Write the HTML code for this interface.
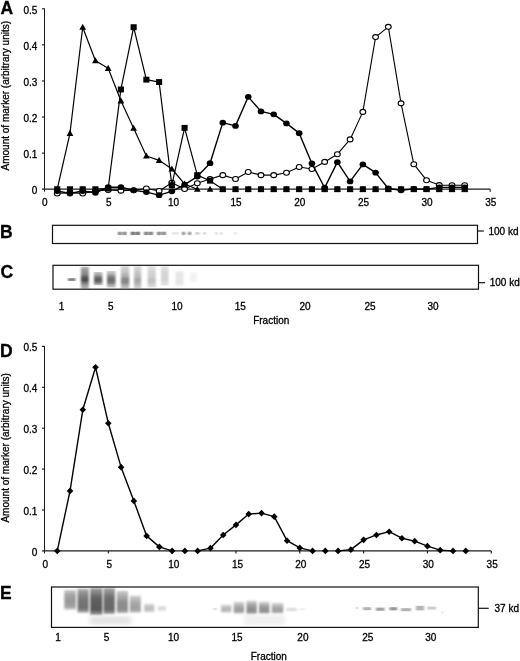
<!DOCTYPE html>
<html><head><meta charset="utf-8"><title>Figure</title>
<style>html,body{margin:0;padding:0;background:#fff}body{width:520px;height:661px;overflow:hidden}svg{display:block}text{font-family:"Liberation Sans",sans-serif;fill:#000;stroke:#000;stroke-width:.3px}</style>
</head><body>
<svg style="will-change:transform" width="520" height="661" viewBox="0 0 520 661">
<defs><filter id="b1" x="-20%" y="-50%" width="140%" height="200%"><feGaussianBlur stdDeviation="0.8 0.7"/></filter><filter id="b2" x="-20%" y="-50%" width="140%" height="200%"><feGaussianBlur stdDeviation="0.9 1.1"/></filter><filter id="b3" x="-30%" y="-50%" width="160%" height="200%"><feGaussianBlur stdDeviation="2.5 1.6"/></filter></defs>
<rect width="520" height="661" fill="#fff"/>
<g stroke="#1a1a1a" stroke-width="1.15" fill="none">
<path d="M44.5 8.5V191.7" stroke-width="1"/><path d="M42.0 189.2H490.19" stroke="#1c1c1c" stroke-width="1.3"/>
<path d="M42.0 153.12H44.5"/>
<path d="M42.0 117.04H44.5"/>
<path d="M42.0 80.96H44.5"/>
<path d="M42.0 44.88H44.5"/>
<path d="M42.0 8.80H44.5"/>
<path d="M108.17 189.2V191.7"/>
<path d="M171.84 189.2V191.7"/>
<path d="M235.51 189.2V191.7"/>
<path d="M299.18 189.2V191.7"/>
<path d="M362.85 189.2V191.7"/>
<path d="M426.52 189.2V191.7"/>
<path d="M490.19 189.2V191.7"/>
</g>
<text x="37.3" y="193.90" font-size="10" text-anchor="end">0</text>
<text x="37.3" y="157.82" font-size="10" text-anchor="end">0.1</text>
<text x="37.3" y="121.74" font-size="10" text-anchor="end">0.2</text>
<text x="37.3" y="85.66" font-size="10" text-anchor="end">0.3</text>
<text x="37.3" y="49.58" font-size="10" text-anchor="end">0.4</text>
<text x="37.3" y="13.50" font-size="10" text-anchor="end">0.5</text>
<text x="44.70" y="206.00" font-size="10" text-anchor="middle">0</text>
<text x="108.77" y="206.00" font-size="10" text-anchor="middle">5</text>
<text x="173.54" y="206.00" font-size="10" text-anchor="middle">10</text>
<text x="236.11" y="206.00" font-size="10" text-anchor="middle">15</text>
<text x="299.78" y="206.00" font-size="10" text-anchor="middle">20</text>
<text x="363.45" y="206.00" font-size="10" text-anchor="middle">25</text>
<text x="427.12" y="206.00" font-size="10" text-anchor="middle">30</text>
<text x="490.79" y="206.00" font-size="10" text-anchor="middle">35</text>
<text transform="translate(9.2 95.7) rotate(-90)" font-size="10" text-anchor="middle">Amount of marker (arbitrary units)</text>
<polyline points="57.23,193.53 69.97,192.81 82.70,193.53 95.44,191.00 108.17,189.92 120.90,190.64 133.64,190.28 146.37,188.48 159.11,191.00 171.84,182.71 184.57,188.95 197.31,183.21 210.04,179.10 222.78,175.13 235.51,178.95 248.24,171.95 260.98,175.13 273.71,175.13 286.45,172.68 299.18,166.94 311.91,169.00 324.65,161.92 337.38,154.20 350.12,139.41 362.85,111.88 375.58,37.09 388.32,26.84 401.05,103.33 413.79,164.20 426.52,180.18 439.25,185.09 451.99,185.23 464.72,185.23" fill="none" stroke="#000" stroke-width="1.1" stroke-linejoin="round"/>
<ellipse cx="57.23" cy="193.53" rx="2.9" ry="2.5" fill="#fff" stroke="#000" stroke-width="1.1"/>
<ellipse cx="69.97" cy="192.81" rx="2.9" ry="2.5" fill="#fff" stroke="#000" stroke-width="1.1"/>
<ellipse cx="82.70" cy="193.53" rx="2.9" ry="2.5" fill="#fff" stroke="#000" stroke-width="1.1"/>
<ellipse cx="95.44" cy="191.00" rx="2.9" ry="2.5" fill="#fff" stroke="#000" stroke-width="1.1"/>
<ellipse cx="108.17" cy="189.92" rx="2.9" ry="2.5" fill="#fff" stroke="#000" stroke-width="1.1"/>
<ellipse cx="120.90" cy="190.64" rx="2.9" ry="2.5" fill="#fff" stroke="#000" stroke-width="1.1"/>
<ellipse cx="133.64" cy="190.28" rx="2.9" ry="2.5" fill="#fff" stroke="#000" stroke-width="1.1"/>
<ellipse cx="146.37" cy="188.48" rx="2.9" ry="2.5" fill="#fff" stroke="#000" stroke-width="1.1"/>
<ellipse cx="159.11" cy="191.00" rx="2.9" ry="2.5" fill="#fff" stroke="#000" stroke-width="1.1"/>
<ellipse cx="171.84" cy="182.71" rx="2.9" ry="2.5" fill="#fff" stroke="#000" stroke-width="1.1"/>
<ellipse cx="184.57" cy="188.95" rx="2.9" ry="2.5" fill="#fff" stroke="#000" stroke-width="1.1"/>
<ellipse cx="197.31" cy="183.21" rx="2.9" ry="2.5" fill="#fff" stroke="#000" stroke-width="1.1"/>
<ellipse cx="210.04" cy="179.10" rx="2.9" ry="2.5" fill="#fff" stroke="#000" stroke-width="1.1"/>
<ellipse cx="222.78" cy="175.13" rx="2.9" ry="2.5" fill="#fff" stroke="#000" stroke-width="1.1"/>
<ellipse cx="235.51" cy="178.95" rx="2.9" ry="2.5" fill="#fff" stroke="#000" stroke-width="1.1"/>
<ellipse cx="248.24" cy="171.95" rx="2.9" ry="2.5" fill="#fff" stroke="#000" stroke-width="1.1"/>
<ellipse cx="260.98" cy="175.13" rx="2.9" ry="2.5" fill="#fff" stroke="#000" stroke-width="1.1"/>
<ellipse cx="273.71" cy="175.13" rx="2.9" ry="2.5" fill="#fff" stroke="#000" stroke-width="1.1"/>
<ellipse cx="286.45" cy="172.68" rx="2.9" ry="2.5" fill="#fff" stroke="#000" stroke-width="1.1"/>
<ellipse cx="299.18" cy="166.94" rx="2.9" ry="2.5" fill="#fff" stroke="#000" stroke-width="1.1"/>
<ellipse cx="311.91" cy="169.00" rx="2.9" ry="2.5" fill="#fff" stroke="#000" stroke-width="1.1"/>
<ellipse cx="324.65" cy="161.92" rx="2.9" ry="2.5" fill="#fff" stroke="#000" stroke-width="1.1"/>
<ellipse cx="337.38" cy="154.20" rx="2.9" ry="2.5" fill="#fff" stroke="#000" stroke-width="1.1"/>
<ellipse cx="350.12" cy="139.41" rx="2.9" ry="2.5" fill="#fff" stroke="#000" stroke-width="1.1"/>
<ellipse cx="362.85" cy="111.88" rx="2.9" ry="2.5" fill="#fff" stroke="#000" stroke-width="1.1"/>
<ellipse cx="375.58" cy="37.09" rx="2.9" ry="2.5" fill="#fff" stroke="#000" stroke-width="1.1"/>
<ellipse cx="388.32" cy="26.84" rx="2.9" ry="2.5" fill="#fff" stroke="#000" stroke-width="1.1"/>
<ellipse cx="401.05" cy="103.33" rx="2.9" ry="2.5" fill="#fff" stroke="#000" stroke-width="1.1"/>
<ellipse cx="413.79" cy="164.20" rx="2.9" ry="2.5" fill="#fff" stroke="#000" stroke-width="1.1"/>
<ellipse cx="426.52" cy="180.18" rx="2.9" ry="2.5" fill="#fff" stroke="#000" stroke-width="1.1"/>
<ellipse cx="439.25" cy="185.09" rx="2.9" ry="2.5" fill="#fff" stroke="#000" stroke-width="1.1"/>
<ellipse cx="451.99" cy="185.23" rx="2.9" ry="2.5" fill="#fff" stroke="#000" stroke-width="1.1"/>
<ellipse cx="464.72" cy="185.23" rx="2.9" ry="2.5" fill="#fff" stroke="#000" stroke-width="1.1"/>
<polyline points="57.23,191.00 69.97,193.53 82.70,191.00 95.44,192.81 108.17,187.22 120.90,187.22 133.64,190.28 146.37,192.09 159.11,195.19 171.84,191.36 184.57,184.69 197.31,176.57 210.04,163.22 222.78,122.63 235.51,125.88 248.24,96.84 260.98,111.38 273.71,114.37 286.45,123.39 299.18,133.17 311.91,163.44 324.65,187.76 337.38,162.14 350.12,181.44 362.85,164.41 375.58,172.68 388.32,188.48 401.05,190.28 413.79,188.84 426.52,189.20 439.25,187.40 451.99,187.40 464.72,187.40" fill="none" stroke="#000" stroke-width="1.4" stroke-linejoin="round"/>
<ellipse cx="57.23" cy="191.00" rx="3.3" ry="2.9" fill="#000"/>
<ellipse cx="69.97" cy="193.53" rx="3.3" ry="2.9" fill="#000"/>
<ellipse cx="82.70" cy="191.00" rx="3.3" ry="2.9" fill="#000"/>
<ellipse cx="95.44" cy="192.81" rx="3.3" ry="2.9" fill="#000"/>
<ellipse cx="108.17" cy="187.22" rx="3.3" ry="2.9" fill="#000"/>
<ellipse cx="120.90" cy="187.22" rx="3.3" ry="2.9" fill="#000"/>
<ellipse cx="133.64" cy="190.28" rx="3.3" ry="2.9" fill="#000"/>
<ellipse cx="146.37" cy="192.09" rx="3.3" ry="2.9" fill="#000"/>
<ellipse cx="159.11" cy="195.19" rx="3.3" ry="2.9" fill="#000"/>
<ellipse cx="171.84" cy="191.36" rx="3.3" ry="2.9" fill="#000"/>
<ellipse cx="184.57" cy="184.69" rx="3.3" ry="2.9" fill="#000"/>
<ellipse cx="197.31" cy="176.57" rx="3.3" ry="2.9" fill="#000"/>
<ellipse cx="210.04" cy="163.22" rx="3.3" ry="2.9" fill="#000"/>
<ellipse cx="222.78" cy="122.63" rx="3.3" ry="2.9" fill="#000"/>
<ellipse cx="235.51" cy="125.88" rx="3.3" ry="2.9" fill="#000"/>
<ellipse cx="248.24" cy="96.84" rx="3.3" ry="2.9" fill="#000"/>
<ellipse cx="260.98" cy="111.38" rx="3.3" ry="2.9" fill="#000"/>
<ellipse cx="273.71" cy="114.37" rx="3.3" ry="2.9" fill="#000"/>
<ellipse cx="286.45" cy="123.39" rx="3.3" ry="2.9" fill="#000"/>
<ellipse cx="299.18" cy="133.17" rx="3.3" ry="2.9" fill="#000"/>
<ellipse cx="311.91" cy="163.44" rx="3.3" ry="2.9" fill="#000"/>
<ellipse cx="324.65" cy="187.76" rx="3.3" ry="2.9" fill="#000"/>
<ellipse cx="337.38" cy="162.14" rx="3.3" ry="2.9" fill="#000"/>
<ellipse cx="350.12" cy="181.44" rx="3.3" ry="2.9" fill="#000"/>
<ellipse cx="362.85" cy="164.41" rx="3.3" ry="2.9" fill="#000"/>
<ellipse cx="375.58" cy="172.68" rx="3.3" ry="2.9" fill="#000"/>
<ellipse cx="388.32" cy="188.48" rx="3.3" ry="2.9" fill="#000"/>
<ellipse cx="401.05" cy="190.28" rx="3.3" ry="2.9" fill="#000"/>
<ellipse cx="413.79" cy="188.84" rx="3.3" ry="2.9" fill="#000"/>
<ellipse cx="426.52" cy="189.20" rx="3.3" ry="2.9" fill="#000"/>
<ellipse cx="439.25" cy="187.40" rx="3.3" ry="2.9" fill="#000"/>
<ellipse cx="451.99" cy="187.40" rx="3.3" ry="2.9" fill="#000"/>
<ellipse cx="464.72" cy="187.40" rx="3.3" ry="2.9" fill="#000"/>
<polyline points="57.23,189.20 69.97,133.28 82.70,27.20 95.44,60.76 108.17,68.33 120.90,100.80 133.64,128.22 146.37,156.01 159.11,160.34 171.84,169.00 184.57,183.93 197.31,189.20" fill="none" stroke="#000" stroke-width="1.2" stroke-linejoin="round"/>
<path d="M57.23 185.70L60.58 191.80H53.88Z" fill="#000"/>
<path d="M69.97 129.78L73.32 135.88H66.62Z" fill="#000"/>
<path d="M82.70 23.70L86.05 29.80H79.35Z" fill="#000"/>
<path d="M95.44 57.26L98.79 63.36H92.09Z" fill="#000"/>
<path d="M108.17 64.83L111.52 70.93H104.82Z" fill="#000"/>
<path d="M120.90 97.30L124.25 103.40H117.55Z" fill="#000"/>
<path d="M133.64 124.72L136.99 130.82H130.29Z" fill="#000"/>
<path d="M146.37 152.51L149.72 158.61H143.02Z" fill="#000"/>
<path d="M159.11 156.84L162.46 162.94H155.76Z" fill="#000"/>
<path d="M171.84 165.50L175.19 171.60H168.49Z" fill="#000"/>
<path d="M184.57 180.43L187.92 186.53H181.22Z" fill="#000"/>
<path d="M197.31 185.70L200.66 191.80H193.96Z" fill="#000"/>
<path d="M210.04 185.70L213.39 191.80H206.69Z" fill="#000"/>
<path d="M222.78 185.70L226.13 191.80H219.43Z" fill="#000"/>
<path d="M235.51 185.70L238.86 191.80H232.16Z" fill="#000"/>
<path d="M248.24 185.70L251.59 191.80H244.89Z" fill="#000"/>
<path d="M260.98 185.70L264.33 191.80H257.63Z" fill="#000"/>
<path d="M273.71 185.70L277.06 191.80H270.36Z" fill="#000"/>
<path d="M286.45 185.70L289.80 191.80H283.10Z" fill="#000"/>
<path d="M299.18 185.70L302.53 191.80H295.83Z" fill="#000"/>
<path d="M311.91 185.70L315.26 191.80H308.56Z" fill="#000"/>
<path d="M324.65 185.70L328.00 191.80H321.30Z" fill="#000"/>
<path d="M337.38 185.70L340.73 191.80H334.03Z" fill="#000"/>
<path d="M350.12 185.70L353.47 191.80H346.77Z" fill="#000"/>
<path d="M362.85 185.70L366.20 191.80H359.50Z" fill="#000"/>
<path d="M375.58 185.70L378.93 191.80H372.23Z" fill="#000"/>
<path d="M388.32 185.70L391.67 191.80H384.97Z" fill="#000"/>
<path d="M401.05 185.70L404.40 191.80H397.70Z" fill="#000"/>
<path d="M413.79 185.70L417.14 191.80H410.44Z" fill="#000"/>
<path d="M426.52 185.70L429.87 191.80H423.17Z" fill="#000"/>
<path d="M439.25 185.70L442.60 191.80H435.90Z" fill="#000"/>
<path d="M451.99 185.70L455.34 191.80H448.64Z" fill="#000"/>
<path d="M464.72 185.70L468.07 191.80H461.37Z" fill="#000"/>
<polyline points="95.44,189.20 108.17,188.48 120.90,89.44 133.64,27.20 146.37,79.66 159.11,82.04 171.84,185.23 184.57,127.86 197.31,175.13 210.04,180.69 222.78,189.20" fill="none" stroke="#000" stroke-width="1.2" stroke-linejoin="round"/>
<rect x="54.18" y="186.25" width="6.1" height="5.9" fill="#000"/>
<rect x="66.92" y="186.25" width="6.1" height="5.9" fill="#000"/>
<rect x="79.65" y="186.25" width="6.1" height="5.9" fill="#000"/>
<rect x="92.39" y="186.25" width="6.1" height="5.9" fill="#000"/>
<rect x="105.12" y="185.53" width="6.1" height="5.9" fill="#000"/>
<rect x="117.85" y="86.49" width="6.1" height="5.9" fill="#000"/>
<rect x="130.59" y="24.25" width="6.1" height="5.9" fill="#000"/>
<rect x="143.32" y="76.71" width="6.1" height="5.9" fill="#000"/>
<rect x="156.06" y="79.09" width="6.1" height="5.9" fill="#000"/>
<rect x="168.79" y="182.28" width="6.1" height="5.9" fill="#000"/>
<rect x="181.52" y="124.91" width="6.1" height="5.9" fill="#000"/>
<rect x="194.26" y="172.18" width="6.1" height="5.9" fill="#000"/>
<rect x="206.99" y="177.74" width="6.1" height="5.9" fill="#000"/>
<rect x="219.73" y="186.25" width="6.1" height="5.9" fill="#000"/>
<rect x="232.46" y="186.25" width="6.1" height="5.9" fill="#000"/>
<rect x="245.19" y="186.25" width="6.1" height="5.9" fill="#000"/>
<rect x="257.93" y="186.25" width="6.1" height="5.9" fill="#000"/>
<rect x="270.66" y="186.25" width="6.1" height="5.9" fill="#000"/>
<rect x="283.40" y="186.25" width="6.1" height="5.9" fill="#000"/>
<rect x="296.13" y="186.25" width="6.1" height="5.9" fill="#000"/>
<rect x="308.86" y="186.25" width="6.1" height="5.9" fill="#000"/>
<rect x="321.60" y="186.25" width="6.1" height="5.9" fill="#000"/>
<rect x="334.33" y="186.25" width="6.1" height="5.9" fill="#000"/>
<rect x="347.07" y="186.25" width="6.1" height="5.9" fill="#000"/>
<rect x="359.80" y="186.25" width="6.1" height="5.9" fill="#000"/>
<rect x="372.53" y="186.25" width="6.1" height="5.9" fill="#000"/>
<rect x="385.27" y="186.25" width="6.1" height="5.9" fill="#000"/>
<rect x="398.00" y="186.25" width="6.1" height="5.9" fill="#000"/>
<rect x="410.74" y="186.25" width="6.1" height="5.9" fill="#000"/>
<rect x="423.47" y="186.25" width="6.1" height="5.9" fill="#000"/>
<rect x="436.20" y="186.25" width="6.1" height="5.9" fill="#000"/>
<rect x="448.94" y="186.25" width="6.1" height="5.9" fill="#000"/>
<rect x="461.67" y="186.25" width="6.1" height="5.9" fill="#000"/>
<text x="0.4" y="13.6" font-size="17.5" font-weight="bold" stroke-width="0.1">A</text>
<text x="0.1" y="237.8" font-size="17.5" font-weight="bold" stroke-width="0.1">B</text>
<text x="0.5" y="277.5" font-size="17.5" font-weight="bold" stroke-width="0.1">C</text>
<text x="0.1" y="356.7" font-size="17.5" font-weight="bold" stroke-width="0.1">D</text>
<text x="0.1" y="599.4" font-size="17.5" font-weight="bold" stroke-width="0.1">E</text>
<rect x="118.3" y="231.9" width="8.0" height="3.0" fill="#bcbcbc" filter="url(#b1)"/>
<rect x="118.3" y="231.7" width="3.0" height="3.4" fill="#8c8c8c" filter="url(#b1)"/>
<rect x="123.3" y="231.7" width="3.0" height="3.4" fill="#8c8c8c" filter="url(#b1)"/>
<rect x="131.3" y="231.9" width="8.2" height="3.0" fill="#a0a0a0" filter="url(#b1)"/>
<rect x="131.3" y="231.7" width="3.0" height="3.4" fill="#707070" filter="url(#b1)"/>
<rect x="136.5" y="231.7" width="3.0" height="3.4" fill="#707070" filter="url(#b1)"/>
<rect x="144.5" y="231.9" width="8.0" height="3.0" fill="#b0b0b0" filter="url(#b1)"/>
<rect x="144.5" y="231.7" width="3.0" height="3.4" fill="#808080" filter="url(#b1)"/>
<rect x="149.5" y="231.7" width="3.0" height="3.4" fill="#808080" filter="url(#b1)"/>
<rect x="157.5" y="231.9" width="8.0" height="3.0" fill="#b8b8b8" filter="url(#b1)"/>
<rect x="157.5" y="231.7" width="3.0" height="3.4" fill="#888888" filter="url(#b1)"/>
<rect x="162.5" y="231.7" width="3.0" height="3.4" fill="#888888" filter="url(#b1)"/>
<rect x="182.0" y="232.9" width="9.2" height="1.0" fill="#e0e0e0" filter="url(#b1)"/>
<rect x="182.0" y="231.7" width="3.0" height="3.4" fill="#989898" filter="url(#b1)"/>
<rect x="188.2" y="231.7" width="3.0" height="3.4" fill="#989898" filter="url(#b1)"/>
<rect x="172.0" y="232.2" width="7.0" height="2.4" fill="#e4e4e4" filter="url(#b1)"/>
<rect x="195.5" y="232.2" width="4.0" height="2.4" fill="#c8c8c8" filter="url(#b1)"/>
<rect x="203.0" y="232.2" width="3.0" height="2.4" fill="#d4d4d4" filter="url(#b1)"/>
<rect x="215.0" y="232.2" width="2.5" height="2.4" fill="#d8d8d8" filter="url(#b1)"/>
<rect x="220.0" y="232.2" width="2.5" height="2.4" fill="#d8d8d8" filter="url(#b1)"/>
<rect x="234.0" y="232.2" width="3.0" height="2.4" fill="#e4e4e4" filter="url(#b1)"/>
<rect x="52.5" y="225.3" width="425" height="18.2" fill="none" stroke="#111" stroke-width="1.2"/>
<path d="M477.5 231H483.8" stroke="#111" stroke-width="1.2"/>
<text x="488.5" y="234.6" font-size="10">100 kd</text>
<rect x="68.0" y="278.2" width="7.4" height="2.7" fill="#808080" filter="url(#b1)"/>
<linearGradient id="g1" x1="0" y1="0" x2="0" y2="1"><stop offset="0.000" stop-color="#b8b8b8"/><stop offset="0.147" stop-color="#989898"/><stop offset="0.330" stop-color="#888888"/><stop offset="0.491" stop-color="#585858"/><stop offset="0.606" stop-color="#484848"/><stop offset="0.720" stop-color="#707070"/><stop offset="0.835" stop-color="#989898"/><stop offset="1.000" stop-color="#b8b8b8"/></linearGradient>
<rect x="80.9" y="266.8" width="7.9" height="21.8" fill="url(#g1)" filter="url(#b1)"/>
<linearGradient id="g2" x1="0" y1="0" x2="0" y2="1"><stop offset="0.000" stop-color="#c8c8c8"/><stop offset="0.227" stop-color="#a0a0a0"/><stop offset="0.417" stop-color="#707070"/><stop offset="0.606" stop-color="#585858"/><stop offset="0.758" stop-color="#707070"/><stop offset="1.000" stop-color="#c0c0c0"/></linearGradient>
<rect x="94.0" y="272.0" width="8.3" height="13.2" fill="url(#g2)" filter="url(#b1)"/>
<linearGradient id="g3" x1="0" y1="0" x2="0" y2="1"><stop offset="0.000" stop-color="#d0d0d0"/><stop offset="0.181" stop-color="#b0b0b0"/><stop offset="0.361" stop-color="#808080"/><stop offset="0.542" stop-color="#686868"/><stop offset="0.723" stop-color="#808080"/><stop offset="0.873" stop-color="#b0b0b0"/><stop offset="1.000" stop-color="#d0d0d0"/></linearGradient>
<rect x="107.0" y="271.0" width="8.5" height="16.6" fill="url(#g3)" filter="url(#b1)"/>
<linearGradient id="g4" x1="0" y1="0" x2="0" y2="1"><stop offset="0.000" stop-color="#d4d4d4"/><stop offset="0.255" stop-color="#c4c4c4"/><stop offset="0.459" stop-color="#a8a8a8"/><stop offset="0.573" stop-color="#888888"/><stop offset="0.732" stop-color="#888888"/><stop offset="0.845" stop-color="#a8a8a8"/><stop offset="1.000" stop-color="#c8c8c8"/></linearGradient>
<rect x="120.9" y="266.4" width="8.4" height="22.0" fill="url(#g4)" filter="url(#b1)"/>
<linearGradient id="g5" x1="0" y1="0" x2="0" y2="1"><stop offset="0.000" stop-color="#d8d8d8"/><stop offset="0.255" stop-color="#c8c8c8"/><stop offset="0.482" stop-color="#b8b8b8"/><stop offset="0.618" stop-color="#a4a4a4"/><stop offset="0.755" stop-color="#b0b0b0"/><stop offset="1.000" stop-color="#d4d4d4"/></linearGradient>
<rect x="134.0" y="266.4" width="7.2" height="22.0" fill="url(#g5)" filter="url(#b1)"/>
<linearGradient id="g6" x1="0" y1="0" x2="0" y2="1"><stop offset="0.000" stop-color="#e0e0e0"/><stop offset="0.265" stop-color="#d4d4d4"/><stop offset="0.526" stop-color="#cccccc"/><stop offset="0.668" stop-color="#c0c0c0"/><stop offset="0.810" stop-color="#cccccc"/><stop offset="1.000" stop-color="#e0e0e0"/></linearGradient>
<rect x="147.6" y="266.4" width="8.2" height="21.1" fill="url(#g6)" filter="url(#b1)"/>
<linearGradient id="g7" x1="0" y1="0" x2="0" y2="1"><stop offset="0.000" stop-color="#e4e4e4"/><stop offset="0.293" stop-color="#d6d6d6"/><stop offset="0.660" stop-color="#d2d2d2"/><stop offset="1.000" stop-color="#e4e4e4"/></linearGradient>
<rect x="161.0" y="266.4" width="7.5" height="19.1" fill="url(#g7)" filter="url(#b1)"/>
<rect x="175.5" y="271.5" width="8.0" height="14.0" fill="#e6e6e6" filter="url(#b2)"/>
<rect x="190.0" y="272.5" width="7.0" height="9.0" fill="#f2f2f2" filter="url(#b2)"/>
<rect x="53" y="265.3" width="425.5" height="23.9" fill="none" stroke="#111" stroke-width="1.2"/>
<path d="M478.5 282.7H485" stroke="#111" stroke-width="1.2"/>
<text x="489.7" y="286.2" font-size="10">100 kd</text>
<text x="61.5" y="309.6" font-size="10" text-anchor="middle">1</text>
<text x="110.8" y="309.6" font-size="10" text-anchor="middle">5</text>
<text x="177" y="309.6" font-size="10" text-anchor="middle">10</text>
<text x="240.25" y="309.6" font-size="10" text-anchor="middle">15</text>
<text x="305" y="309.6" font-size="10" text-anchor="middle">20</text>
<text x="370" y="309.6" font-size="10" text-anchor="middle">25</text>
<text x="433" y="309.6" font-size="10" text-anchor="middle">30</text>
<text x="271.2" y="324.3" font-size="10" text-anchor="middle">Fraction</text>
<g stroke="#1a1a1a" stroke-width="1.15" fill="none">
<path d="M44.5 346V553.4" stroke-width="1"/><path d="M42.0 550.9H491.27500000000003" stroke="#1c1c1c" stroke-width="1.3"/>
<path d="M42.0 510.00H44.5"/>
<path d="M42.0 469.10H44.5"/>
<path d="M42.0 428.20H44.5"/>
<path d="M42.0 387.30H44.5"/>
<path d="M42.0 346.40H44.5"/>
<path d="M108.33 550.9V553.4"/>
<path d="M172.15 550.9V553.4"/>
<path d="M235.98 550.9V553.4"/>
<path d="M299.80 550.9V553.4"/>
<path d="M363.62 550.9V553.4"/>
<path d="M427.45 550.9V553.4"/>
<path d="M491.28 550.9V553.4"/>
</g>
<text x="37.3" y="555.60" font-size="10" text-anchor="end">0</text>
<text x="37.3" y="514.70" font-size="10" text-anchor="end">0.1</text>
<text x="37.3" y="473.80" font-size="10" text-anchor="end">0.2</text>
<text x="37.3" y="432.90" font-size="10" text-anchor="end">0.3</text>
<text x="37.3" y="392.00" font-size="10" text-anchor="end">0.4</text>
<text x="37.3" y="351.10" font-size="10" text-anchor="end">0.5</text>
<text x="45.40" y="568.10" font-size="10" text-anchor="middle">0</text>
<text x="109.23" y="568.10" font-size="10" text-anchor="middle">5</text>
<text x="173.85" y="568.10" font-size="10" text-anchor="middle">10</text>
<text x="237.58" y="568.10" font-size="10" text-anchor="middle">15</text>
<text x="300.70" y="568.10" font-size="10" text-anchor="middle">20</text>
<text x="364.52" y="568.10" font-size="10" text-anchor="middle">25</text>
<text x="428.35" y="568.10" font-size="10" text-anchor="middle">30</text>
<text x="492.18" y="568.10" font-size="10" text-anchor="middle">35</text>
<text transform="translate(9.2 447.8) rotate(-90)" font-size="10" text-anchor="middle">Amount of marker (arbitrary units)</text>
<polyline points="57.27,550.90 70.03,490.90 82.80,409.79 95.56,367.26 108.33,423.29 121.09,467.14 133.86,500.92 146.62,535.89 159.38,546.89 172.15,550.90" fill="none" stroke="#000" stroke-width="1.4" stroke-linejoin="round"/>
<polyline points="197.68,550.90 210.44,548.16 223.21,534.95 235.98,524.89 248.74,514.09 261.50,513.15 274.27,516.67 287.04,540.67 299.80,547.91 312.56,550.90" fill="none" stroke="#000" stroke-width="1.4" stroke-linejoin="round"/>
<polyline points="338.10,550.90 350.86,549.67 363.62,539.86 376.39,534.95 389.16,531.68 401.92,538.22 414.69,541.17 427.45,546.16 440.22,550.16 452.98,550.90" fill="none" stroke="#000" stroke-width="1.4" stroke-linejoin="round"/>
<path d="M57.27 547.60L60.56 550.90L57.27 554.20L53.97 550.90Z" fill="#000"/>
<path d="M70.03 487.60L73.33 490.90L70.03 494.20L66.73 490.90Z" fill="#000"/>
<path d="M82.80 406.49L86.09 409.79L82.80 413.09L79.50 409.79Z" fill="#000"/>
<path d="M95.56 363.96L98.86 367.26L95.56 370.56L92.26 367.26Z" fill="#000"/>
<path d="M108.33 419.99L111.62 423.29L108.33 426.59L105.03 423.29Z" fill="#000"/>
<path d="M121.09 463.84L124.39 467.14L121.09 470.44L117.79 467.14Z" fill="#000"/>
<path d="M133.86 497.62L137.16 500.92L133.86 504.22L130.56 500.92Z" fill="#000"/>
<path d="M146.62 532.59L149.92 535.89L146.62 539.19L143.32 535.89Z" fill="#000"/>
<path d="M159.38 543.59L162.69 546.89L159.38 550.19L156.08 546.89Z" fill="#000"/>
<path d="M172.15 547.60L175.45 550.90L172.15 554.20L168.85 550.90Z" fill="#000"/>
<path d="M184.92 547.60L188.22 550.90L184.92 554.20L181.62 550.90Z" fill="#000"/>
<path d="M197.68 547.60L200.98 550.90L197.68 554.20L194.38 550.90Z" fill="#000"/>
<path d="M210.44 544.86L213.75 548.16L210.44 551.46L207.14 548.16Z" fill="#000"/>
<path d="M223.21 531.65L226.51 534.95L223.21 538.25L219.91 534.95Z" fill="#000"/>
<path d="M235.98 521.59L239.28 524.89L235.98 528.19L232.68 524.89Z" fill="#000"/>
<path d="M248.74 510.79L252.04 514.09L248.74 517.39L245.44 514.09Z" fill="#000"/>
<path d="M261.50 509.85L264.81 513.15L261.50 516.45L258.20 513.15Z" fill="#000"/>
<path d="M274.27 513.37L277.57 516.67L274.27 519.97L270.97 516.67Z" fill="#000"/>
<path d="M287.04 537.38L290.34 540.67L287.04 543.97L283.74 540.67Z" fill="#000"/>
<path d="M299.80 544.61L303.10 547.91L299.80 551.21L296.50 547.91Z" fill="#000"/>
<path d="M312.56 547.60L315.87 550.90L312.56 554.20L309.26 550.90Z" fill="#000"/>
<path d="M325.33 547.60L328.63 550.90L325.33 554.20L322.03 550.90Z" fill="#000"/>
<path d="M338.10 547.60L341.40 550.90L338.10 554.20L334.80 550.90Z" fill="#000"/>
<path d="M350.86 546.37L354.16 549.67L350.86 552.97L347.56 549.67Z" fill="#000"/>
<path d="M363.62 536.56L366.93 539.86L363.62 543.16L360.32 539.86Z" fill="#000"/>
<path d="M376.39 531.65L379.69 534.95L376.39 538.25L373.09 534.95Z" fill="#000"/>
<path d="M389.16 528.38L392.46 531.68L389.16 534.98L385.86 531.68Z" fill="#000"/>
<path d="M401.92 534.92L405.22 538.22L401.92 541.52L398.62 538.22Z" fill="#000"/>
<path d="M414.69 537.87L417.99 541.17L414.69 544.47L411.38 541.17Z" fill="#000"/>
<path d="M427.45 542.86L430.75 546.16L427.45 549.46L424.15 546.16Z" fill="#000"/>
<path d="M440.22 546.86L443.52 550.16L440.22 553.46L436.92 550.16Z" fill="#000"/>
<path d="M452.98 547.60L456.28 550.90L452.98 554.20L449.68 550.90Z" fill="#000"/>
<path d="M465.75 547.60L469.05 550.90L465.75 554.20L462.44 550.90Z" fill="#000"/>
<linearGradient id="g8" x1="0" y1="0" x2="0" y2="1"><stop offset="0.000" stop-color="#d0d0d0"/><stop offset="0.205" stop-color="#a8a8a8"/><stop offset="0.513" stop-color="#989898"/><stop offset="0.821" stop-color="#a0a0a0"/><stop offset="1.000" stop-color="#c0c0c0"/></linearGradient>
<rect x="64.3" y="590.0" width="11.6" height="19.5" fill="url(#g8)" filter="url(#b2)"/>
<linearGradient id="g9" x1="0" y1="0" x2="0" y2="1"><stop offset="0.000" stop-color="#b0b0b0"/><stop offset="0.177" stop-color="#909090"/><stop offset="0.430" stop-color="#787878"/><stop offset="0.810" stop-color="#707070"/><stop offset="1.000" stop-color="#a0a0a0"/></linearGradient>
<rect x="77.5" y="588.8" width="11.3" height="23.7" fill="url(#g9)" filter="url(#b2)"/>
<linearGradient id="g10" x1="0" y1="0" x2="0" y2="1"><stop offset="0.000" stop-color="#a0a0a0"/><stop offset="0.185" stop-color="#808080"/><stop offset="0.370" stop-color="#606060"/><stop offset="0.815" stop-color="#585858"/><stop offset="1.000" stop-color="#a0a0a0"/></linearGradient>
<rect x="90.1" y="588.0" width="12.4" height="27.0" fill="url(#g10)" filter="url(#b2)"/>
<linearGradient id="g11" x1="0" y1="0" x2="0" y2="1"><stop offset="0.000" stop-color="#a8a8a8"/><stop offset="0.192" stop-color="#888888"/><stop offset="0.385" stop-color="#6c6c6c"/><stop offset="0.846" stop-color="#686868"/><stop offset="1.000" stop-color="#a8a8a8"/></linearGradient>
<rect x="103.5" y="588.0" width="11.4" height="26.0" fill="url(#g11)" filter="url(#b2)"/>
<linearGradient id="g12" x1="0" y1="0" x2="0" y2="1"><stop offset="0.000" stop-color="#c8c8c8"/><stop offset="0.273" stop-color="#a8a8a8"/><stop offset="0.545" stop-color="#8c8c8c"/><stop offset="0.864" stop-color="#8c8c8c"/><stop offset="1.000" stop-color="#b8b8b8"/></linearGradient>
<rect x="116.7" y="591.0" width="11.3" height="22.0" fill="url(#g12)" filter="url(#b2)"/>
<linearGradient id="g13" x1="0" y1="0" x2="0" y2="1"><stop offset="0.000" stop-color="#d0d0d0"/><stop offset="0.315" stop-color="#b0b0b0"/><stop offset="0.613" stop-color="#a0a0a0"/><stop offset="0.851" stop-color="#a0a0a0"/><stop offset="1.000" stop-color="#c0c0c0"/></linearGradient>
<rect x="129.7" y="595.7" width="11.1" height="16.8" fill="url(#g13)" filter="url(#b2)"/>
<linearGradient id="g14" x1="0" y1="0" x2="0" y2="1"><stop offset="0.000" stop-color="#dcdcdc"/><stop offset="0.390" stop-color="#c0c0c0"/><stop offset="0.756" stop-color="#c0c0c0"/><stop offset="1.000" stop-color="#d0d0d0"/></linearGradient>
<rect x="144.2" y="603.8" width="10.0" height="8.2" fill="url(#g14)" filter="url(#b2)"/>
<linearGradient id="g15" x1="0" y1="0" x2="0" y2="1"><stop offset="0.000" stop-color="#e4e4e4"/><stop offset="0.500" stop-color="#d8d8d8"/><stop offset="1.000" stop-color="#e6e6e6"/></linearGradient>
<rect x="158.0" y="606.0" width="8.0" height="5.0" fill="url(#g15)" filter="url(#b2)"/>
<rect x="90.0" y="616.5" width="41.0" height="8.0" fill="#e4e4e4" filter="url(#b3)"/>
<rect x="213.5" y="607.8" width="3.3" height="2.4" fill="#dcdcdc" filter="url(#b1)"/>
<linearGradient id="g16" x1="0" y1="0" x2="0" y2="1"><stop offset="0.000" stop-color="#dcdcdc"/><stop offset="0.421" stop-color="#b8b8b8"/><stop offset="0.750" stop-color="#b4b4b4"/><stop offset="1.000" stop-color="#cccccc"/></linearGradient>
<rect x="221.0" y="604.8" width="10.4" height="7.6" fill="url(#g16)" filter="url(#b2)"/>
<linearGradient id="g17" x1="0" y1="0" x2="0" y2="1"><stop offset="0.000" stop-color="#dcdcdc"/><stop offset="0.276" stop-color="#b4b4b4"/><stop offset="0.621" stop-color="#9c9c9c"/><stop offset="0.836" stop-color="#9c9c9c"/><stop offset="1.000" stop-color="#c4c4c4"/></linearGradient>
<rect x="233.8" y="601.8" width="10.2" height="11.6" fill="url(#g17)" filter="url(#b2)"/>
<linearGradient id="g18" x1="0" y1="0" x2="0" y2="1"><stop offset="0.000" stop-color="#dcdcdc"/><stop offset="0.248" stop-color="#acacac"/><stop offset="0.540" stop-color="#909090"/><stop offset="0.832" stop-color="#8c8c8c"/><stop offset="1.000" stop-color="#c4c4c4"/></linearGradient>
<rect x="246.4" y="600.6" width="10.4" height="13.7" fill="url(#g18)" filter="url(#b2)"/>
<linearGradient id="g19" x1="0" y1="0" x2="0" y2="1"><stop offset="0.000" stop-color="#dcdcdc"/><stop offset="0.279" stop-color="#acacac"/><stop offset="0.525" stop-color="#949494"/><stop offset="0.852" stop-color="#909090"/><stop offset="1.000" stop-color="#c4c4c4"/></linearGradient>
<rect x="259.0" y="601.6" width="10.5" height="12.2" fill="url(#g19)" filter="url(#b2)"/>
<linearGradient id="g20" x1="0" y1="0" x2="0" y2="1"><stop offset="0.000" stop-color="#e0e0e0"/><stop offset="0.302" stop-color="#b4b4b4"/><stop offset="0.585" stop-color="#a0a0a0"/><stop offset="0.821" stop-color="#a0a0a0"/><stop offset="1.000" stop-color="#c4c4c4"/></linearGradient>
<rect x="271.8" y="602.8" width="11.4" height="10.6" fill="url(#g20)" filter="url(#b2)"/>
<rect x="286.5" y="608.0" width="10.3" height="3.0" fill="#d8d8d8" filter="url(#b2)"/>
<rect x="299.5" y="608.3" width="5.5" height="2.0" fill="#eeeeee" filter="url(#b1)"/>
<rect x="244.0" y="615.0" width="41.0" height="10.0" fill="#f0f0f0" filter="url(#b3)"/>
<rect x="356.0" y="606.8" width="2.5" height="2.4" fill="#d8d8d8" filter="url(#b1)"/>
<rect x="363.0" y="607.2" width="8.0" height="3.0" fill="#b0b0b0" filter="url(#b1)"/>
<rect x="376.0" y="607.6" width="8.5" height="3.2" fill="#a4a4a4" filter="url(#b1)"/>
<rect x="389.5" y="607.2" width="7.7" height="3.2" fill="#989898" filter="url(#b1)"/>
<rect x="401.0" y="608.2" width="10.0" height="3.0" fill="#b0b0b0" filter="url(#b1)"/>
<rect x="416.0" y="605.8" width="8.0" height="4.6" fill="#b4b4b4" filter="url(#b1)"/>
<rect x="427.5" y="606.6" width="8.5" height="3.0" fill="#cccccc" filter="url(#b1)"/>
<rect x="441.5" y="611.5" width="2.0" height="2.0" fill="#d8d8d8" filter="url(#b1)"/>
<rect x="51.5" y="587" width="426.8" height="40.4" fill="none" stroke="#111" stroke-width="1.2"/>
<path d="M478.3 608.3H488.7" stroke="#111" stroke-width="1.2"/>
<text x="494.5" y="612.1" font-size="10">37 kd</text>
<text x="58.0" y="640.9" font-size="10" text-anchor="middle">1</text>
<text x="106.6" y="640.9" font-size="10" text-anchor="middle">5</text>
<text x="173.5" y="640.9" font-size="10" text-anchor="middle">10</text>
<text x="237.1" y="640.9" font-size="10" text-anchor="middle">15</text>
<text x="302.9" y="640.9" font-size="10" text-anchor="middle">20</text>
<text x="367.7" y="640.9" font-size="10" text-anchor="middle">25</text>
<text x="430.7" y="640.9" font-size="10" text-anchor="middle">30</text>
<text x="268.8" y="660.2" font-size="10" text-anchor="middle">Fraction</text>
</svg></body></html>
